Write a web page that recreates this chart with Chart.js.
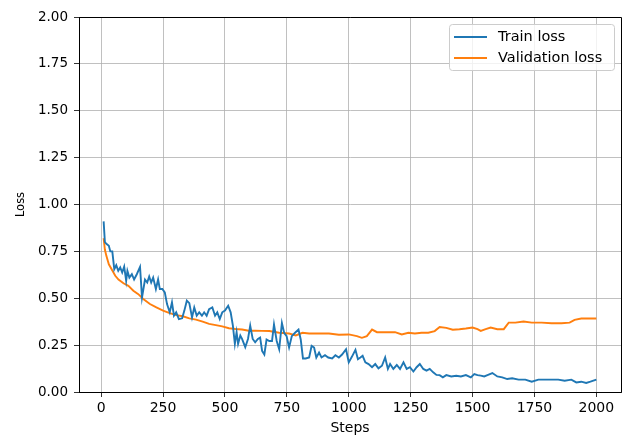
<!DOCTYPE html>
<html>
<head>
<meta charset="utf-8">
<script src="https://cdn.jsdelivr.net/npm/chart.js@4"></script>
<style>
  body { margin: 0; background: #fff; }
  #wrap { width: 632px; height: 438px; }
</style>
</head>
<body>
<div id="wrap"><canvas id="myChart" width="632" height="438"></canvas></div>
<script>
// data
const trainSteps = [10, 15, 21, 31, 37, 45, 53, 61, 69, 77, 85, 93, 101, 106, 114, 124, 133, 144, 157, 165, 177, 186, 194, 202, 210, 221, 230, 237, 247, 257, 266, 277, 286, 294, 303, 314, 327, 336, 346, 356, 367, 376, 386, 396, 407, 416, 426, 436, 449, 460, 469, 479, 489, 500, 513, 523, 532, 540, 547, 553, 562, 569, 582, 593, 602, 612, 622, 633, 642, 650, 659, 668, 679, 690, 698, 709, 719, 730, 739, 749, 759, 770, 783, 797, 806, 815, 826, 840, 850, 860, 869, 880, 890, 904, 917, 933, 946, 960, 973, 989, 1000, 1013, 1027, 1037, 1047, 1056, 1067, 1080, 1094, 1107, 1120, 1134, 1147, 1158, 1167, 1180, 1194, 1207, 1221, 1234, 1247, 1261, 1274, 1287, 1301, 1314, 1327, 1341, 1354, 1367, 1380, 1394, 1414, 1434, 1453, 1473, 1493, 1507, 1520, 1533, 1547, 1560, 1580, 1600, 1620, 1640, 1660, 1686, 1713, 1739, 1766, 1793, 1819, 1846, 1872, 1899, 1919, 1939, 1959, 1976, 2000];
const trainLoss = [0.91, 0.80, 0.79, 0.78, 0.75, 0.75, 0.655, 0.676, 0.646, 0.664, 0.637, 0.669, 0.593, 0.646, 0.61, 0.628, 0.60, 0.628, 0.667, 0.504, 0.60, 0.584, 0.616, 0.584, 0.61, 0.549, 0.60, 0.549, 0.549, 0.531, 0.469, 0.425, 0.478, 0.407, 0.425, 0.389, 0.393, 0.434, 0.487, 0.474, 0.398, 0.451, 0.407, 0.425, 0.407, 0.425, 0.407, 0.442, 0.451, 0.407, 0.425, 0.389, 0.425, 0.434, 0.46, 0.425, 0.354, 0.257, 0.319, 0.257, 0.301, 0.283, 0.239, 0.283, 0.354, 0.283, 0.265, 0.283, 0.29, 0.219, 0.20, 0.28, 0.272, 0.272, 0.36, 0.272, 0.228, 0.368, 0.316, 0.298, 0.237, 0.298, 0.316, 0.333, 0.28, 0.179, 0.179, 0.184, 0.246, 0.237, 0.184, 0.21, 0.184, 0.196, 0.184, 0.179, 0.196, 0.184, 0.20, 0.228, 0.158, 0.189, 0.225, 0.175, 0.184, 0.193, 0.158, 0.149, 0.132, 0.149, 0.126, 0.14, 0.184, 0.123, 0.149, 0.123, 0.144, 0.123, 0.158, 0.123, 0.132, 0.109, 0.132, 0.149, 0.123, 0.114, 0.123, 0.105, 0.091, 0.09, 0.078, 0.09, 0.083, 0.087, 0.083, 0.09, 0.078, 0.096, 0.09, 0.087, 0.083, 0.09, 0.101, 0.083, 0.078, 0.069, 0.073, 0.066, 0.066, 0.055, 0.066, 0.066, 0.066, 0.066, 0.06, 0.066, 0.051, 0.055, 0.048, 0.055, 0.066];

const valSteps = [10, 15, 21, 31, 44, 57, 70, 90, 110, 130, 150, 170, 197, 223, 250, 277, 303, 330, 356, 383, 410, 436, 463, 489, 516, 543, 569, 596, 622, 649, 679, 719, 759, 786, 813, 840, 880, 920, 960, 1000, 1033, 1053, 1073, 1094, 1114, 1147, 1187, 1214, 1241, 1267, 1294, 1321, 1347, 1367, 1394, 1420, 1447, 1473, 1500, 1520, 1533, 1553, 1573, 1600, 1626, 1646, 1673, 1706, 1739, 1779, 1819, 1859, 1892, 1912, 1939, 1966, 2000];
const valLoss = [0.82, 0.76, 0.726, 0.681, 0.651, 0.62, 0.60, 0.58, 0.566, 0.54, 0.522, 0.496, 0.469, 0.451, 0.434, 0.421, 0.41, 0.404, 0.393, 0.386, 0.375, 0.363, 0.357, 0.35, 0.34, 0.336, 0.333, 0.327, 0.327, 0.326, 0.325, 0.316, 0.312, 0.302, 0.316, 0.312, 0.312, 0.312, 0.305, 0.307, 0.298, 0.289, 0.298, 0.333, 0.319, 0.319, 0.319, 0.307, 0.316, 0.312, 0.316, 0.316, 0.325, 0.347, 0.342, 0.332, 0.335, 0.339, 0.344, 0.335, 0.326, 0.335, 0.344, 0.335, 0.335, 0.37, 0.37, 0.376, 0.37, 0.37, 0.367, 0.367, 0.37, 0.385, 0.392, 0.392, 0.392];

const xTicks = [0, 250, 500, 750, 1000, 1250, 1500, 1750, 2000];
const yTicks = [0, 0.25, 0.5, 0.75, 1, 1.25, 1.5, 1.75, 2];
const seriesNames = ['Train loss', 'Validation loss'];
const seriesColors = ['#1f77b4', '#ff7f0e'];

const FONT = "'DejaVu Sans', sans-serif";

// top/right spines like matplotlib
const frame = {
    id: 'frame',
    afterDatasetsDraw(chart) {
        const { ctx, chartArea: a } = chart;
        ctx.save();
        ctx.strokeStyle = '#000';
        ctx.lineWidth = 1;
        ctx.beginPath();
        ctx.moveTo(a.left, a.top + 0.5);
        ctx.lineTo(a.right + 0.5, a.top + 0.5);
        ctx.lineTo(a.right + 0.5, a.bottom);
        ctx.stroke();
        ctx.restore();
    }
};

// legend box in the upper right corner
const boxLegend = {
    id: 'boxLegend',
    afterDraw(chart) {
        const { ctx, chartArea: a } = chart;
        const w = 165, h = 46;
        const x = a.right - 7 - w, y = a.top + 7;
        ctx.save();
        ctx.globalAlpha = 0.8;
        ctx.fillStyle = '#fff';
        ctx.strokeStyle = '#cccccc';
        ctx.lineWidth = 1;
        ctx.beginPath();
        ctx.roundRect(x + 0.5, y + 0.5, w, h, 3);
        ctx.fill();
        ctx.globalAlpha = 1;
        ctx.stroke();
        ctx.font = '14.5px ' + FONT;
        ctx.textBaseline = 'middle';
        ctx.fillStyle = '#000';
        seriesNames.forEach((name, i) => {
            const ly = y + 13 + i * 21;
            ctx.strokeStyle = seriesColors[i];
            ctx.lineWidth = 2;
            ctx.beginPath();
            ctx.moveTo(x + 5, ly);
            ctx.lineTo(x + 38, ly);
            ctx.stroke();
            ctx.fillText(name, x + 49, ly);
        });
        ctx.restore();
    }
};

const toPoints = (xs, ys) => xs.map((s, i) => ({ x: s, y: ys[i] }));

new Chart(document.getElementById('myChart'), {
    type: 'line',
    data: {
        datasets: [
            {
                label: seriesNames[0],
                data: toPoints(trainSteps, trainLoss),
                borderColor: seriesColors[0],
                borderWidth: 1.9,
                pointRadius: 0,
                tension: 0,
            },
            {
                label: seriesNames[1],
                data: toPoints(valSteps, valLoss),
                borderColor: seriesColors[1],
                borderWidth: 1.9,
                pointRadius: 0,
                tension: 0,
            }
        ]
    },
    options: {
        responsive: false,
        animation: false,
        layout: { padding: { top: 17, right: 11, left: 0, bottom: 0 } },
        plugins: {
            legend: { display: false },
            tooltip: { enabled: false },
        },
        scales: {
            x: {
                type: 'linear',
                min: -89.5,
                max: 2099.5,
                afterBuildTicks: s => { s.ticks = xTicks.map(v => ({ value: v })); },
                afterFit: s => { s.height = 46; },
                ticks: {
                    color: '#000',
                    font: { family: FONT, size: 14 },
                    padding: 3,
                    maxRotation: 0,
                    autoSkip: false,
                    callback: v => String(v),
                },
                grid: { color: '#b0b0b0', lineWidth: 0.8, tickColor: '#000', tickLength: 5 },
                border: { display: true, color: '#000', width: 1 },
                title: { display: true, text: 'Steps', color: '#000', font: { family: FONT, size: 14 }, padding: { top: 0, bottom: 1 } },
            },
            y: {
                min: 0,
                max: 2,
                afterBuildTicks: s => { s.ticks = yTicks.map(v => ({ value: v })); },
                afterFit: s => { s.width = 79; },
                ticks: {
                    color: '#000',
                    font: { family: FONT, size: 13.5 },
                    padding: 6,
                    callback: v => Number(v).toFixed(2),
                },
                grid: { color: '#b0b0b0', lineWidth: 0.8, tickColor: '#000', tickLength: 5 },
                border: { display: true, color: '#000', width: 1 },
                title: { display: true, text: 'Loss', color: '#000', font: { family: FONT, size: 11.5 }, padding: { top: 14, bottom: 0 } },
            }
        }
    },
    plugins: [frame, boxLegend]
});
</script>
</body>
</html>
